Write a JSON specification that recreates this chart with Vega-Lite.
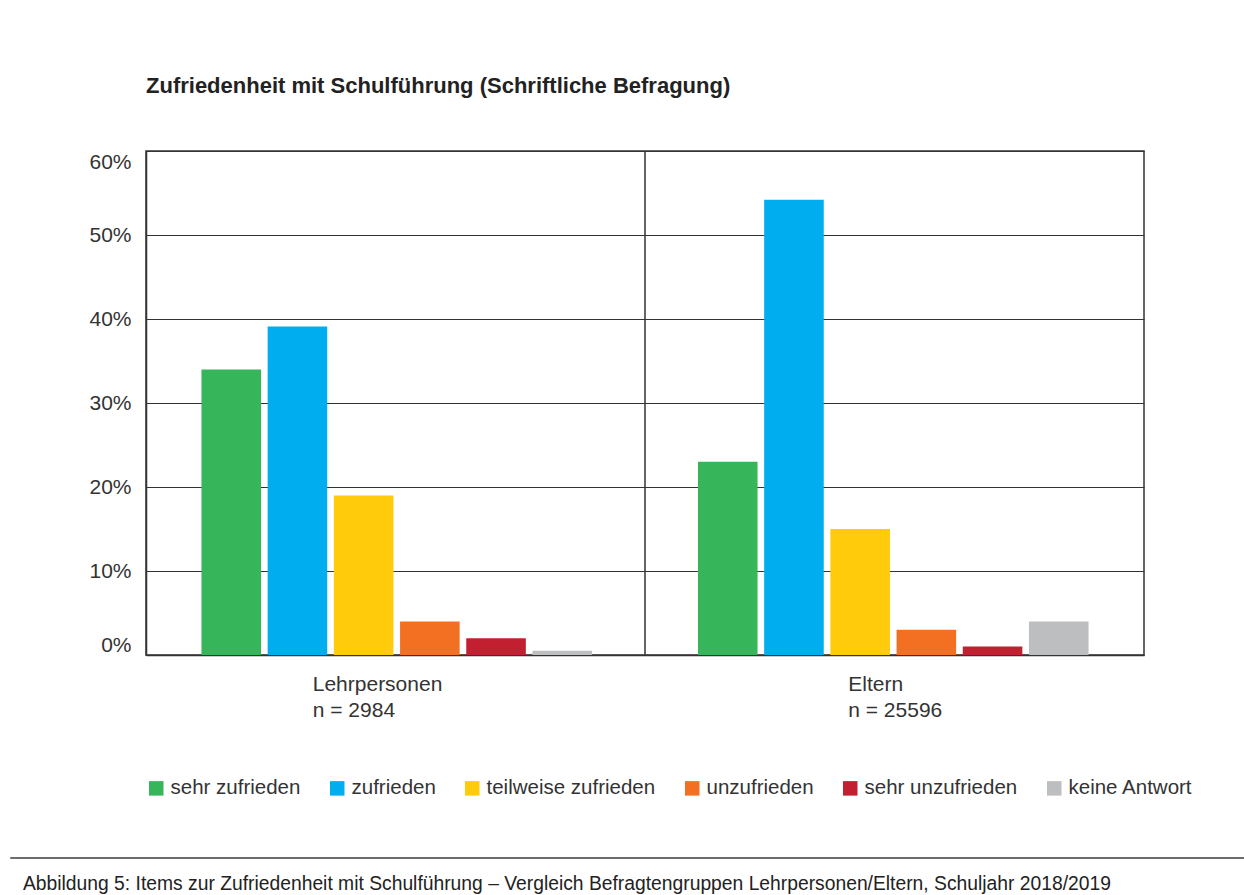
{
  "$schema": "https://vega.github.io/schema/vega-lite/v6.json",
  "background": "white",
  "padding": {"left": 9, "top": 74, "right": -35, "bottom": 0},
  "spacing": 202,
  "bounds": "flush",
  "center": true,
  "resolve": {
    "scale": {"color": "independent", "x": "independent", "y": "independent"},
    "legend": {"color": "independent"}
  },
  "config": {"font": "Liberation Sans"},
  "vconcat": [
    {
      "width": 998,
      "height": 504,
      "view": {"stroke": "#333333", "strokeWidth": 1.5},
      "title": {
        "text": "Zufriedenheit mit Schulführung (Schriftliche Befragung)",
        "anchor": "start",
        "frame": "group",
        "fontSize": 22,
        "fontWeight": "bold",
        "font": "Liberation Sans",
        "color": "#222222",
        "offset": 52
      },
      "layer": [
        {
          "data": {
            "values": [
              {"group": "Lehrpersonen\nn = 2984", "category": "sehr zufrieden", "value": 34},
              {"group": "Lehrpersonen\nn = 2984", "category": "zufrieden", "value": 39.1},
              {"group": "Lehrpersonen\nn = 2984", "category": "teilweise zufrieden", "value": 19},
              {"group": "Lehrpersonen\nn = 2984", "category": "unzufrieden", "value": 4},
              {"group": "Lehrpersonen\nn = 2984", "category": "sehr unzufrieden", "value": 2},
              {"group": "Lehrpersonen\nn = 2984", "category": "keine Antwort", "value": 0.5},
              {"group": "Eltern\nn = 25596", "category": "sehr zufrieden", "value": 23},
              {"group": "Eltern\nn = 25596", "category": "zufrieden", "value": 54.2},
              {"group": "Eltern\nn = 25596", "category": "teilweise zufrieden", "value": 15},
              {"group": "Eltern\nn = 25596", "category": "unzufrieden", "value": 3},
              {"group": "Eltern\nn = 25596", "category": "sehr unzufrieden", "value": 1},
              {"group": "Eltern\nn = 25596", "category": "keine Antwort", "value": 4}
            ]
          },
          "mark": {"type": "bar"},
          "encoding": {
            "x": {
              "field": "group",
              "type": "nominal",
              "scale": {
                "domain": ["Lehrpersonen\nn = 2984", "Eltern\nn = 25596"],
                "paddingInner": 0.2,
                "paddingOuter": 0.105
              },
              "axis": {
                "title": null,
                "labelAngle": 0,
                "labelExpr": "split(datum.label, '\\n')",
                "labelAlign": "left",
                "labelBaseline": "top",
                "labelLineHeight": 26,
                "labelFontSize": 21,
                "labelColor": "#333333",
                "labelPadding": 18,
                "labelLimit": 300,
                "labelOffset": {
                  "condition": {"test": "indexof(datum.value, 'Lehr') == 0", "value": -84},
                  "value": -45
                },
                "ticks": false,
                "grid": false,
                "domain": true,
                "domainColor": "#333333",
                "domainWidth": 1.5
              }
            },
            "xOffset": {
              "field": "category",
              "type": "nominal",
              "scale": {
                "domain": ["sehr zufrieden", "zufrieden", "teilweise zufrieden", "unzufrieden", "sehr unzufrieden", "keine Antwort"],
                "paddingInner": 0.1,
                "paddingOuter": 0.05
              }
            },
            "y": {
              "field": "value",
              "type": "quantitative",
              "scale": {"domain": [0, 60]},
              "axis": {
                "title": null,
                "values": [0, 10, 20, 30, 40, 50, 60],
                "labelExpr": "datum.value + '%'",
                "labelFontSize": 21,
                "labelColor": "#333333",
                "labelPadding": 15,
                "labelFlush": true,
                "ticks": false,
                "grid": true,
                "gridColor": "#333333",
                "gridWidth": 1,
                "domain": true,
                "domainColor": "#333333",
                "domainWidth": 1.5
              }
            },
            "color": {
              "field": "category",
              "type": "nominal",
              "scale": {
                "domain": ["sehr zufrieden", "zufrieden", "teilweise zufrieden", "unzufrieden", "sehr unzufrieden", "keine Antwort"],
                "range": ["#37b55a", "#00aeef", "#ffcb0b", "#f37022", "#c21f30", "#bcbec0"]
              },
              "legend": {
                "title": null,
                "orient": "bottom",
                "direction": "horizontal",
                "symbolType": "square",
                "symbolSize": 210,
                "symbolStrokeWidth": 0,
                "symbolOpacity": 1,
                "labelFontSize": 20.5,
                "labelFont": "Liberation Sans",
                "labelColor": "#333333",
                "labelLimit": 400,
                "labelOffset": 4,
                "columnPadding": 26,
                "offset": 58
              }
            }
          }
        },
        {
          "data": {"values": [{"group": "Eltern\nn = 25596"}]},
          "mark": {"type": "rule", "color": "#333333", "strokeWidth": 1.5},
          "encoding": {
            "x": {"field": "group", "type": "nominal", "bandPosition": -0.125}
          }
        }
      ]
    },
    {
      "width": 1270,
      "height": 1,
      "view": {"stroke": "#6d6d6d", "strokeWidth": 1},
      "title": {
        "text": "Abbildung 5: Items zur Zufriedenheit mit Schulführung – Vergleich Befragtengruppen Lehrpersonen/Eltern, Schuljahr 2018/2019",
        "orient": "bottom",
        "anchor": "start",
        "frame": "group",
        "dx": 13,
        "offset": 12,
        "fontSize": 19.3,
        "fontWeight": "normal",
        "font": "Liberation Sans",
        "color": "#222222"
      },
      "data": {"values": [{"caption": ""}]},
      "mark": {"type": "text"},
      "encoding": {"text": {"field": "caption", "type": "nominal"}}
    }
  ]
}
